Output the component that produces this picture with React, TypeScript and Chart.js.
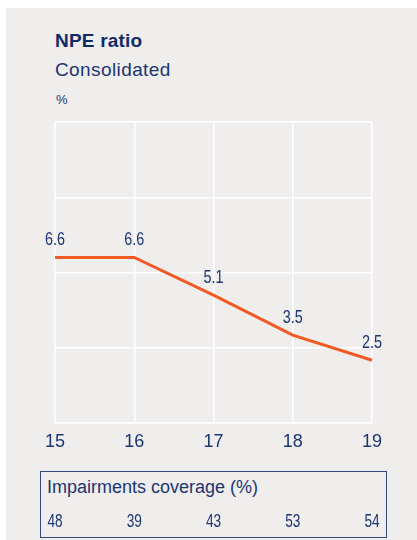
import React, { useEffect, useRef } from 'react';
import { Chart, registerables } from 'chart.js';

Chart.register(...registerables);

const years = ['15', '16', '17', '18', '19'];
const npeRatio = [6.6, 6.6, 5.1, 3.5, 2.5];
const coverage = [48, 39, 43, 53, 54];
const yMin = 0;
const yMax = 12;
const yStep = 3;

const NAVY = '#1b3670';
const TITLE_NAVY = '#102c66';
const LINE = '#f15a24';
const BG = '#f0eded';
const SANS = "'Liberation Sans', Arial, sans-serif";

function drawNarrow(ctx: CanvasRenderingContext2D, text: string, x: number, y: number, sx: number) {
  ctx.save();
  ctx.translate(x, y);
  ctx.scale(sx, 1);
  ctx.fillText(text, 0, 0);
  ctx.restore();
}

export default function App() {
  const ref = useRef<HTMLCanvasElement>(null);

  useEffect(() => {
    if (!ref.current) return;
    const labelsPlugin = {
      id: 'valueLabels',
      afterDatasetsDraw(chart: any) {
        const ctx = chart.ctx as CanvasRenderingContext2D;
        const meta = chart.getDatasetMeta(0);
        ctx.save();
        ctx.fillStyle = NAVY;
        ctx.textAlign = 'center';
        ctx.textBaseline = 'alphabetic';
        ctx.font = `18px ${SANS}`;
        meta.data.forEach((pt: any, i: number) => {
          drawNarrow(ctx, npeRatio[i].toFixed(1), pt.x, pt.y - 12, 0.8);
        });
        const xs = chart.scales.x;
        ctx.font = `19px ${SANS}`;
        coverage.forEach((v, i) => {
          drawNarrow(ctx, String(v), xs.getPixelForValue(i), 527, 0.72);
        });
        ctx.restore();
      },
    };

    const chart = new Chart(ref.current, {
      type: 'line',
      data: {
        labels: years,
        datasets: [
          {
            data: npeRatio,
            borderColor: LINE,
            borderWidth: 3,
            pointRadius: 0,
            tension: 0,
            fill: false,
          },
        ],
      },
      options: {
        responsive: false,
        animation: false,
        layout: { padding: { left: 55, right: 45, top: 122, bottom: 87 } },
        plugins: { legend: { display: false }, tooltip: { enabled: false }, title: { display: false } },
        scales: {
          x: {
            grid: { color: '#ffffff', lineWidth: 1.5, drawTicks: false },
            border: { color: '#ffffff', width: 1.5 },
            ticks: { color: NAVY, font: { size: 18, family: SANS }, padding: 8 },
            afterFit(axis: any) {
              axis.height = 30;
            },
          },
          y: {
            min: yMin,
            max: yMax,
            ticks: { display: false, stepSize: yStep },
            grid: { color: '#ffffff', lineWidth: 1.5, drawTicks: false },
            border: { display: false },
            afterFit(axis: any) {
              axis.width = 0;
            },
          },
        },
      },
      plugins: [labelsPlugin],
    });
    return () => chart.destroy();
  }, []);

  return (
    <div style={{ position: 'fixed', left: 0, top: 0, width: 417, height: 540, background: '#ffffff', overflow: 'hidden' }}>
      <div style={{ position: 'absolute', left: 6, top: 8, width: 411, height: 532, background: BG }} />
      <div style={{ position: 'absolute', left: 55, top: 31, fontFamily: SANS, fontWeight: 'bold', fontSize: 19, lineHeight: '19px', letterSpacing: '0.2px', color: TITLE_NAVY, whiteSpace: 'nowrap' }}>
        NPE ratio
      </div>
      <div style={{ position: 'absolute', left: 55, top: 61, fontFamily: SANS, fontSize: 19, lineHeight: '18px', letterSpacing: '0.4px', color: NAVY, whiteSpace: 'nowrap' }}>
        Consolidated
      </div>
      <div style={{ position: 'absolute', left: 56, top: 93, fontFamily: SANS, fontSize: 13, lineHeight: '13px', color: NAVY }}>
        %
      </div>
      <div style={{ position: 'absolute', left: 40, top: 471, width: 347, height: 67, boxSizing: 'border-box', border: `1.5px solid #33497d` }} />
      <div style={{ position: 'absolute', left: 47, top: 478, fontFamily: SANS, fontSize: 18, lineHeight: '18px', color: NAVY, whiteSpace: 'nowrap' }}>
        Impairments coverage (%)
      </div>
      <canvas ref={ref} width={417} height={540} style={{ position: 'absolute', left: 0, top: 0, width: 417, height: 540, display: 'block' }} />
    </div>
  );
}
